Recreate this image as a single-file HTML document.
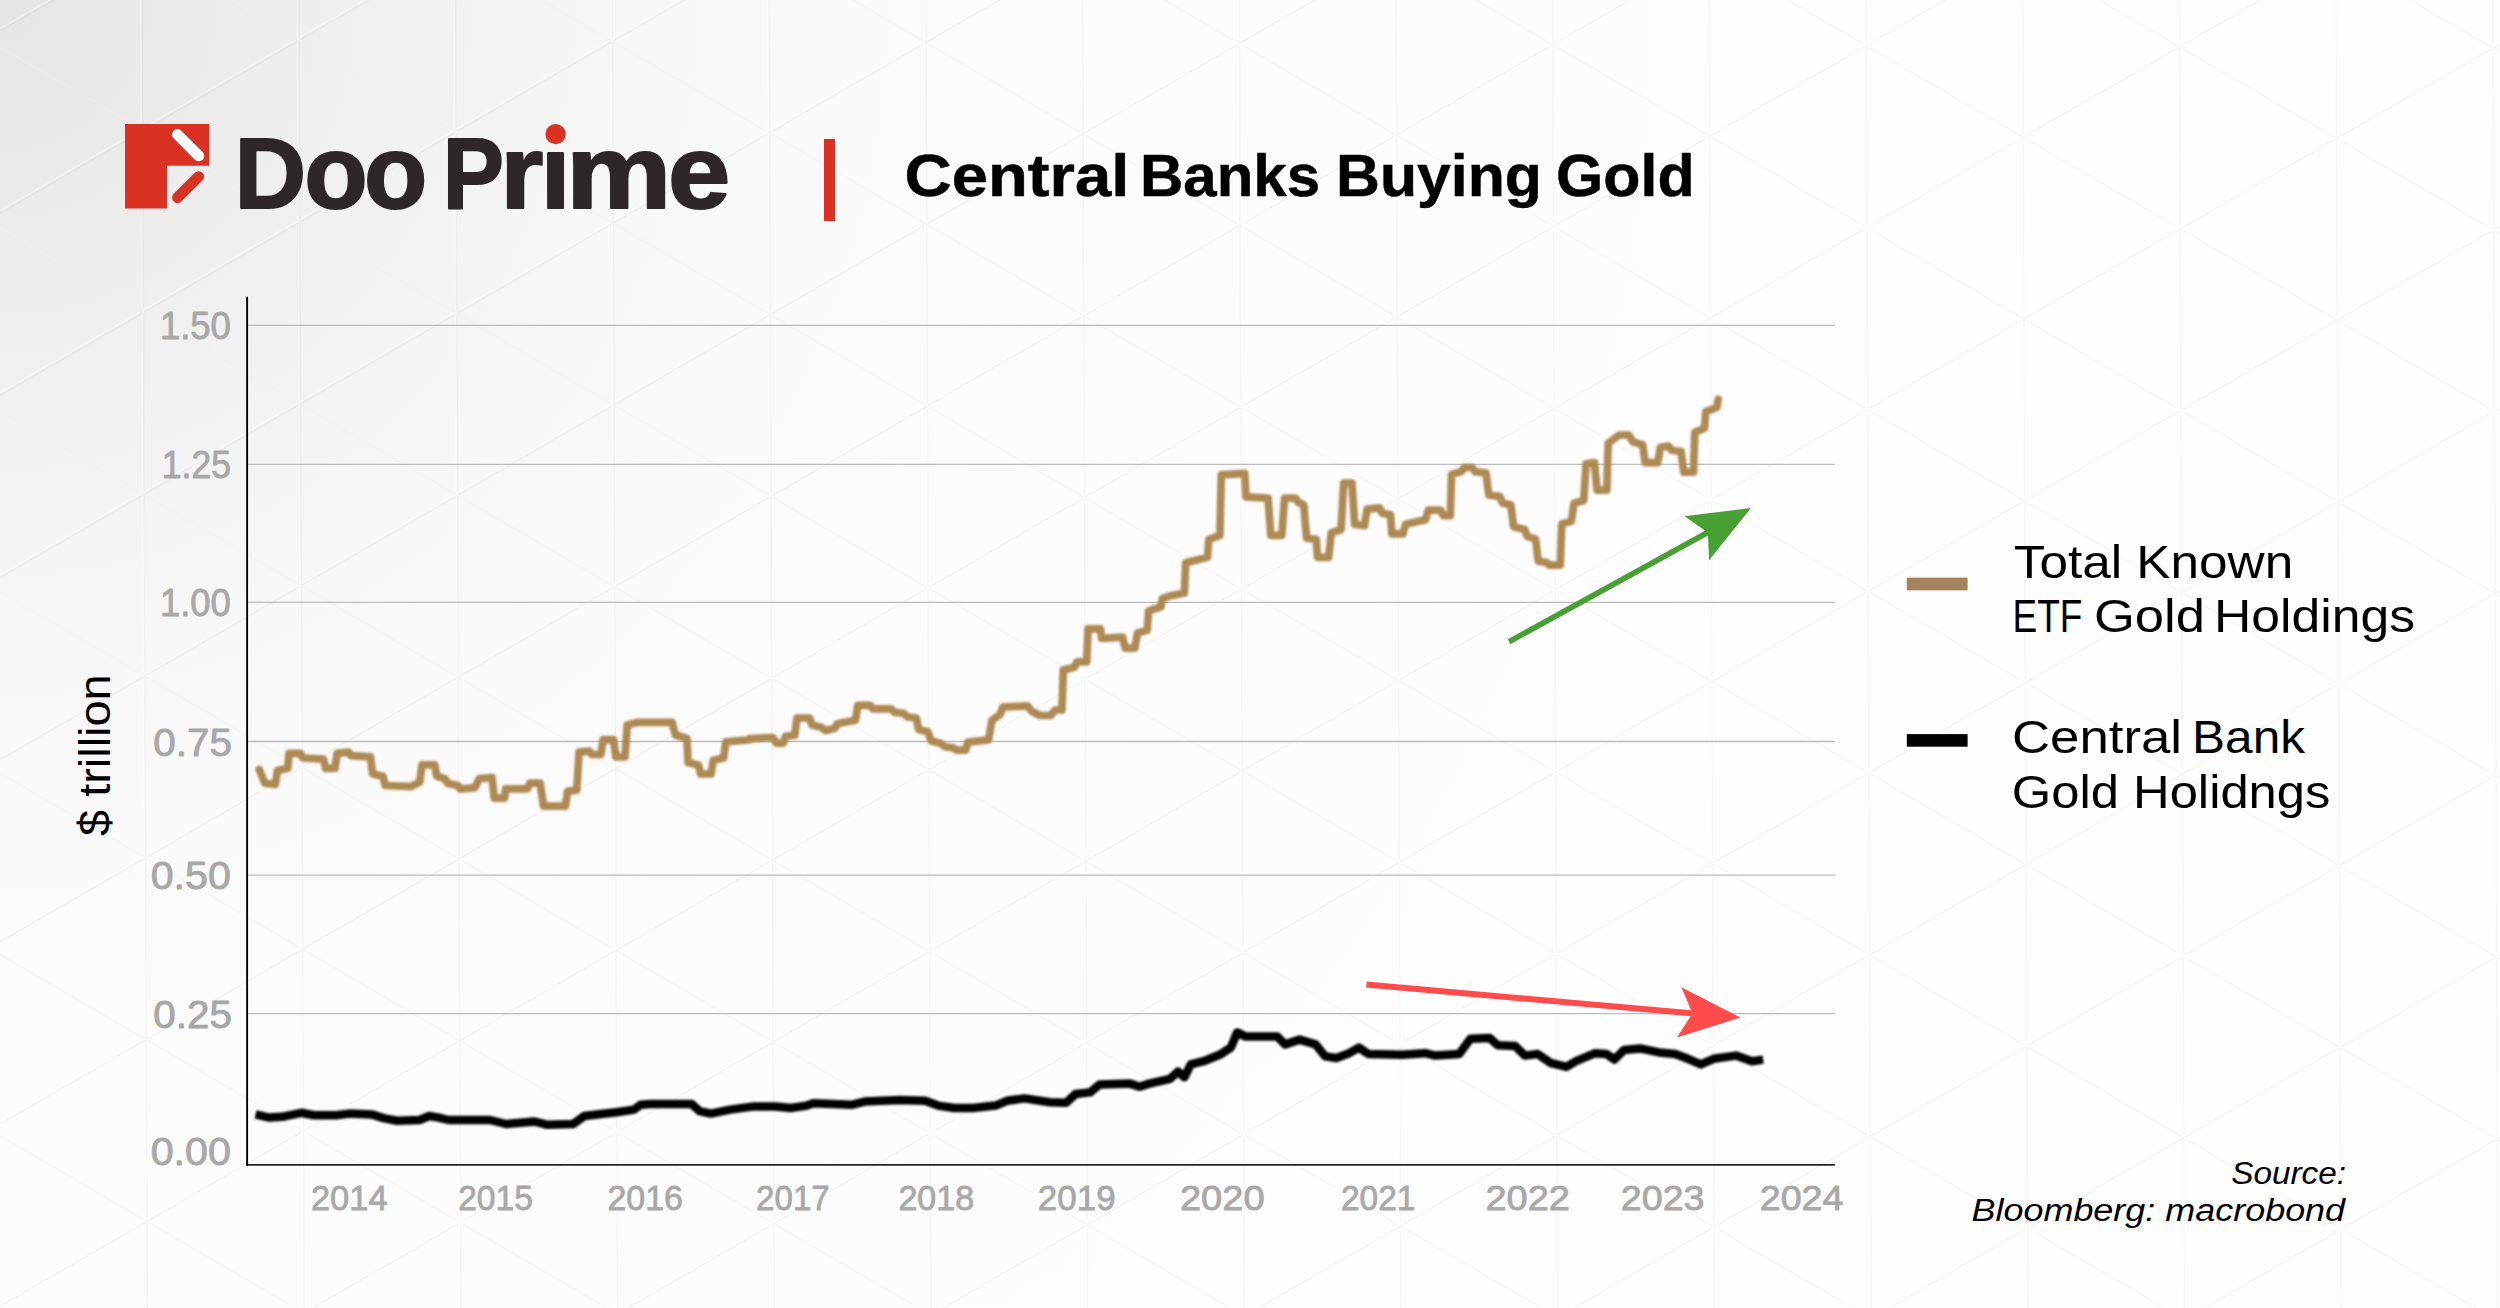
<!DOCTYPE html>
<html lang="en">
<head>
<meta charset="utf-8">
<title>Central Banks Buying Gold</title>
<style>
html,body{margin:0;padding:0;background:#fdfdfd;}
body{width:2500px;height:1308px;overflow:hidden;font-family:"Liberation Sans", sans-serif;}
svg{display:block;}
text{font-family:"Liberation Sans", sans-serif;}
</style>
</head>
<body>
<svg width="2500" height="1308" viewBox="0 0 2500 1308">
<defs>
<radialGradient id="bg1" gradientUnits="userSpaceOnUse" cx="0" cy="0" r="2000">
<stop offset="0.000" stop-color="#e5e5e5"/>
<stop offset="0.105" stop-color="#ebebeb"/>
<stop offset="0.200" stop-color="#f1f1f1"/>
<stop offset="0.325" stop-color="#f7f7f7"/>
<stop offset="0.425" stop-color="#fafafa"/>
<stop offset="0.525" stop-color="#fbfbfb"/>
<stop offset="0.650" stop-color="#fcfcfc"/>
<stop offset="0.900" stop-color="#fdfdfd"/>
<stop offset="1.000" stop-color="#fdfdfd"/>
</radialGradient>
<filter id="soft" x="-2%" y="-5%" width="104%" height="110%"><feGaussianBlur stdDeviation="0.9"/></filter>
</defs>
<rect id="bg" x="0" y="0" width="2500" height="1308" fill="url(#bg1)"/>
<g id="pat" fill="none" stroke-width="1.8">
<path id="patl" d="M-186.0,-3598.4L-157.6,3674.3M-29.3,-3597.9L-0.9,3674.9M127.4,-3597.3L155.8,3675.4M284.2,-3596.7L312.6,3676.0M440.9,-3596.2L469.3,3676.5M597.6,-3595.6L626.0,3677.1M754.3,-3595.1L782.7,3677.7M911.0,-3594.5L939.4,3678.2M1067.7,-3593.9L1096.1,3678.8M1224.4,-3593.4L1252.8,3679.3M1381.1,-3592.8L1409.5,3679.9M1537.8,-3592.3L1566.2,3680.5M1694.5,-3591.7L1722.9,3681.0M1851.2,-3591.1L1879.6,3681.6M2007.9,-3590.6L2036.3,3682.2M2164.6,-3590.0L2193.0,3682.7M2321.3,-3589.4L2349.7,3683.3M2478.0,-3588.9L2506.4,3683.8M2634.7,-3588.3L2663.1,3684.4M2791.4,-3587.8L2819.8,3685.0M2948.2,-3587.2L2976.6,3685.5M-9118.2,-3630.4L3446.7,3687.2M-8804.8,-3629.3L3760.1,3688.3M-8491.4,-3628.2L4073.5,3689.4M-8178.0,-3627.0L4386.9,3690.6M-7864.6,-3625.9L4700.3,3691.7M-7551.1,-3624.8L5013.7,3692.8M-7237.7,-3623.7L5327.1,3693.9M-6924.3,-3622.5L5640.6,3695.1M-6610.9,-3621.4L5954.0,3696.2M-6297.5,-3620.3L6267.4,3697.3M-5984.1,-3619.2L6580.8,3698.4M-5670.7,-3618.1L6894.2,3699.5M-5357.3,-3616.9L7207.6,3700.7M-5043.9,-3615.8L7521.0,3701.8M-4730.4,-3614.7L7834.4,3702.9M-4417.0,-3613.6L8147.8,3704.0M-4103.6,-3612.4L8461.3,3705.2M-3790.2,-3611.3L8774.7,3706.3M-3476.8,-3610.2L9088.1,3707.4M-3163.4,-3609.1L9401.5,3708.5M-2850.0,-3608.0L9714.9,3709.6M-6582.5,3651.3L5925.6,-3576.5M-6269.1,3652.4L6239.0,-3575.4M-5955.7,3653.5L6552.4,-3574.3M-5642.3,3654.7L6865.8,-3573.2M-5328.9,3655.8L7179.2,-3572.1M-5015.5,3656.9L7492.6,-3570.9M-4702.0,3658.0L7806.0,-3569.8M-4388.6,3659.2L8119.4,-3568.7M-4075.2,3660.3L8432.9,-3567.6M-3761.8,3661.4L8746.3,-3566.4M-3448.4,3662.5L9059.7,-3565.3M-3135.0,3663.6L9373.1,-3564.2M-2821.6,3664.8L9686.5,-3563.1M-2508.2,3665.9L9999.9,-3562.0M-2194.7,3667.0L10313.3,-3560.8M-1881.3,3668.1L10626.7,-3559.7M-1567.9,3669.2L10940.2,-3558.6M-1254.5,3670.4L11253.6,-3557.5M-941.1,3671.5L11567.0,-3556.3M-627.7,3672.6L11880.4,-3555.2" stroke="#000000" stroke-opacity="0.026" transform="translate(0.7,0.5)"/>
<path d="M-186.0,-3598.4L-157.6,3674.3M-29.3,-3597.9L-0.9,3674.9M127.4,-3597.3L155.8,3675.4M284.2,-3596.7L312.6,3676.0M440.9,-3596.2L469.3,3676.5M597.6,-3595.6L626.0,3677.1M754.3,-3595.1L782.7,3677.7M911.0,-3594.5L939.4,3678.2M1067.7,-3593.9L1096.1,3678.8M1224.4,-3593.4L1252.8,3679.3M1381.1,-3592.8L1409.5,3679.9M1537.8,-3592.3L1566.2,3680.5M1694.5,-3591.7L1722.9,3681.0M1851.2,-3591.1L1879.6,3681.6M2007.9,-3590.6L2036.3,3682.2M2164.6,-3590.0L2193.0,3682.7M2321.3,-3589.4L2349.7,3683.3M2478.0,-3588.9L2506.4,3683.8M2634.7,-3588.3L2663.1,3684.4M2791.4,-3587.8L2819.8,3685.0M2948.2,-3587.2L2976.6,3685.5M-9118.2,-3630.4L3446.7,3687.2M-8804.8,-3629.3L3760.1,3688.3M-8491.4,-3628.2L4073.5,3689.4M-8178.0,-3627.0L4386.9,3690.6M-7864.6,-3625.9L4700.3,3691.7M-7551.1,-3624.8L5013.7,3692.8M-7237.7,-3623.7L5327.1,3693.9M-6924.3,-3622.5L5640.6,3695.1M-6610.9,-3621.4L5954.0,3696.2M-6297.5,-3620.3L6267.4,3697.3M-5984.1,-3619.2L6580.8,3698.4M-5670.7,-3618.1L6894.2,3699.5M-5357.3,-3616.9L7207.6,3700.7M-5043.9,-3615.8L7521.0,3701.8M-4730.4,-3614.7L7834.4,3702.9M-4417.0,-3613.6L8147.8,3704.0M-4103.6,-3612.4L8461.3,3705.2M-3790.2,-3611.3L8774.7,3706.3M-3476.8,-3610.2L9088.1,3707.4M-3163.4,-3609.1L9401.5,3708.5M-2850.0,-3608.0L9714.9,3709.6M-6582.5,3651.3L5925.6,-3576.5M-6269.1,3652.4L6239.0,-3575.4M-5955.7,3653.5L6552.4,-3574.3M-5642.3,3654.7L6865.8,-3573.2M-5328.9,3655.8L7179.2,-3572.1M-5015.5,3656.9L7492.6,-3570.9M-4702.0,3658.0L7806.0,-3569.8M-4388.6,3659.2L8119.4,-3568.7M-4075.2,3660.3L8432.9,-3567.6M-3761.8,3661.4L8746.3,-3566.4M-3448.4,3662.5L9059.7,-3565.3M-3135.0,3663.6L9373.1,-3564.2M-2821.6,3664.8L9686.5,-3563.1M-2508.2,3665.9L9999.9,-3562.0M-2194.7,3667.0L10313.3,-3560.8M-1881.3,3668.1L10626.7,-3559.7M-1567.9,3669.2L10940.2,-3558.6M-1254.5,3670.4L11253.6,-3557.5M-941.1,3671.5L11567.0,-3556.3M-627.7,3672.6L11880.4,-3555.2" stroke="#ffffff" stroke-opacity="0.32" transform="translate(-0.7,-0.5)"/>
</g>
<g id="logo">
<path d="M125,124.1 H209.3 V165.7 H167 V208.5 H125 Z" fill="#d93223"/>
<line x1="177.5" y1="134.5" x2="198.8" y2="155.8" stroke="#ffffff" stroke-width="10.9" stroke-linecap="round"/>
<line x1="198.6" y1="176.7" x2="177.5" y2="197.7" stroke="#d93223" stroke-width="10.9" stroke-linecap="round"/>
<circle cx="555.6" cy="134.1" r="10.2" fill="#d93223"/>
<rect x="824" y="139" width="11" height="82" fill="#d93223"/>
</g>
<g id="grid" stroke="#bcbcbc" stroke-width="1.3">
<line x1="248" y1="325.4" x2="1835" y2="325.4"/>
<line x1="248" y1="464.3" x2="1835" y2="464.3"/>
<line x1="248" y1="602.3" x2="1835" y2="602.3"/>
<line x1="248" y1="741.5" x2="1835" y2="741.5"/>
<line x1="248" y1="875.1" x2="1835" y2="875.1"/>
<line x1="248" y1="1013.6" x2="1835" y2="1013.6"/>
</g>
<g id="axes" fill="none"><path d="M246.2,1164.9 H1834.8" stroke="#262626" stroke-width="1.8"/><path d="M247.1,296.7 V1165.8" stroke="#050505" stroke-width="1.9"/></g>
<path id="gold" d="M259.2,769.4 L264.9,783.2 L275.2,784.4 L277.5,770.6 L287.8,768.3 L289.0,753.4 L300.5,753.4 L302.8,758.0 L323.4,759.1 L325.7,768.3 L334.9,768.3 L337.2,753.4 L348.6,752.2 L350.9,755.7 L370.4,756.8 L372.7,774.0 L383.0,776.3 L385.3,785.5 L410.6,786.7 L419.7,782.1 L422.0,764.9 L434.6,764.9 L436.9,776.3 L445.0,778.6 L447.2,783.2 L457.6,785.5 L459.9,788.9 L474.8,787.8 L479.4,778.6 L492.0,777.5 L494.3,798.1 L500.0,798.1 L504.6,798.1 L505.7,788.9 L527.5,788.9 L529.8,783.2 L540.1,783.2 L543.6,806.1 L565.4,806.1 L567.7,791.2 L576.8,790.1 L579.1,752.2 L589.4,751.1 L591.7,754.5 L600.9,754.5 L603.2,739.6 L613.5,739.6 L615.8,756.8 L625.0,756.8 L627.3,724.7 L637.6,722.4 L672.0,722.4 L675.5,735.0 L686.9,738.5 L688.1,762.6 L698.4,764.9 L700.7,774.0 L711.0,774.0 L713.3,760.3 L723.6,758.0 L725.9,741.9 L750.0,739.6 L750.0,738.6 L772.9,737.5 L776.4,743.2 L783.3,743.2 L785.6,736.3 L794.7,735.2 L797.0,718.0 L809.6,718.0 L811.9,724.9 L821.1,727.2 L825.7,730.6 L834.9,728.3 L837.2,723.7 L855.5,720.3 L857.8,705.4 L870.4,705.4 L872.7,708.8 L891.1,708.8 L894.5,712.2 L903.7,713.4 L907.1,716.8 L916.3,718.0 L918.6,729.4 L927.8,731.7 L931.2,740.9 L940.4,743.2 L945.0,746.7 L953.0,747.8 L956.4,750.1 L965.6,750.1 L967.9,742.1 L988.5,739.8 L992.0,720.3 L1000.0,714.5 L1002.8,707.2 L1027.5,705.8 L1031.6,711.3 L1039.9,715.5 L1050.9,715.5 L1055.0,710.0 L1061.9,710.0 L1063.3,670.1 L1074.3,667.3 L1077.1,661.8 L1086.7,661.8 L1088.1,628.8 L1100.4,628.8 L1101.8,638.4 L1122.5,637.1 L1125.2,648.1 L1134.8,648.1 L1137.6,632.9 L1147.2,630.2 L1148.6,610.9 L1161.0,606.8 L1162.4,598.5 L1170.6,595.8 L1184.4,593.0 L1185.7,562.8 L1207.5,557.3 L1208.9,539.4 L1219.9,535.3 L1221.3,474.8 L1244.7,473.4 L1246.0,496.8 L1268.1,498.2 L1270.8,535.3 L1281.8,535.3 L1284.6,498.2 L1295.6,498.2 L1298.3,502.3 L1303.8,505.0 L1306.6,538.1 L1316.2,539.4 L1317.6,557.3 L1328.6,557.3 L1331.3,532.6 L1341.0,529.8 L1343.7,483.0 L1352.0,483.0 L1354.7,524.3 L1364.4,525.7 L1367.1,509.2 L1379.5,507.8 L1382.3,513.3 L1390.5,514.7 L1391.9,533.9 L1402.9,533.9 L1405.6,524.3 L1425.5,519.8 L1428.3,510.2 L1440.6,510.2 L1443.4,515.7 L1450.3,515.7 L1451.6,474.4 L1461.3,471.6 L1464.0,467.5 L1472.3,467.5 L1475.0,471.6 L1486.0,473.0 L1488.8,495.0 L1499.8,496.4 L1502.6,503.3 L1510.8,504.7 L1513.6,526.7 L1524.6,529.4 L1527.3,536.3 L1535.6,539.1 L1538.3,561.1 L1546.6,562.5 L1549.3,565.2 L1560.3,565.2 L1561.7,523.9 L1571.3,521.2 L1574.1,503.3 L1583.7,500.5 L1586.1,463.9 L1594.4,462.6 L1597.1,490.1 L1606.8,490.1 L1608.2,443.3 L1619.2,435.0 L1628.8,435.0 L1632.9,441.9 L1642.6,444.7 L1645.3,462.6 L1657.7,462.6 L1660.4,447.4 L1668.7,446.0 L1671.4,450.2 L1681.1,451.5 L1683.8,472.2 L1693.5,472.2 L1694.8,432.3 L1704.5,428.2 L1705.8,411.6 L1716.9,407.5 L1718.2,399.3" fill="none" stroke="#ad8952" stroke-width="7.7" stroke-linejoin="round" stroke-linecap="round" filter="url(#soft)"/>
<path id="black" d="M255.6,1114.4 L269.2,1117.6 L282.0,1116.8 L301.2,1112.8 L314.0,1115.2 L336.4,1115.2 L349.2,1113.6 L371.6,1114.4 L384.4,1118.4 L397.2,1120.8 L419.6,1120.0 L429.2,1116.0 L438.8,1117.6 L448.4,1120.0 L490.0,1120.0 L506.0,1124.0 L534.8,1121.6 L547.6,1124.8 L573.2,1124.0 L584.4,1116.0 L618.0,1112.0 L634.0,1109.6 L640.4,1104.8 L650.0,1104.0 L691.6,1104.0 L699.6,1111.2 L710.8,1113.6 L730.0,1109.6 L754.0,1106.4 L774.8,1106.4 L790.8,1108.0 L806.8,1105.6 L813.2,1103.2 L851.6,1104.8 L864.4,1101.6 L899.6,1100.0 L925.2,1100.8 L938.0,1105.6 L954.0,1108.0 L973.2,1108.0 L995.6,1105.6 L1006.8,1100.8 L1024.4,1098.4 L1050.0,1102.2 L1066.0,1102.8 L1075.6,1094.0 L1090.0,1092.4 L1099.6,1084.4 L1130.0,1083.6 L1139.6,1086.8 L1149.2,1083.6 L1170.0,1078.8 L1178.0,1071.6 L1184.4,1077.2 L1190.8,1064.4 L1203.6,1061.2 L1219.6,1054.8 L1230.8,1047.6 L1237.2,1032.4 L1245.2,1036.4 L1277.2,1036.4 L1285.2,1044.4 L1299.6,1039.6 L1315.6,1044.4 L1325.2,1056.4 L1336.4,1058.0 L1349.2,1053.2 L1358.8,1047.6 L1368.4,1054.0 L1402.0,1054.8 L1424.4,1053.2 L1425.6,1053.2 L1435.2,1055.6 L1459.2,1054.0 L1470.4,1038.8 L1489.6,1038.0 L1497.6,1045.2 L1515.2,1046.0 L1524.8,1055.6 L1537.6,1054.0 L1550.4,1062.8 L1566.4,1066.8 L1576.0,1061.2 L1595.2,1053.2 L1606.4,1054.0 L1614.4,1059.6 L1624.0,1050.0 L1640.0,1048.4 L1659.2,1052.4 L1675.2,1054.0 L1688.0,1058.8 L1700.8,1064.4 L1713.6,1058.8 L1736.0,1055.6 L1752.0,1061.2 L1763.2,1059.6" fill="none" stroke="#050505" stroke-width="8.5" stroke-linejoin="round" stroke-linecap="butt" filter="url(#soft)"/>
<g id="arrows">
<line x1="1509.1" y1="641.7" x2="1709" y2="531.8" stroke="#48a035" stroke-width="5.6"/>
<path d="M1750.9,508 L1684.5,516.3 L1707.8,532.4 L1709.1,560.3 Z" fill="#48a035"/>
<line x1="1366.4" y1="984.6" x2="1694" y2="1013.5" stroke="#fe4c4c" stroke-width="6"/>
<path d="M1740.4,1017.6 L1681.4,987.3 L1692.5,1013.4 L1677,1037.4 Z" fill="#fe4c4c"/>
</g>
<g id="legend">
<rect x="1906.8" y="577.6" width="60.8" height="12.8" fill="#a5835f"/>
<rect x="1906.8" y="734.1" width="60.8" height="12.6" fill="#000000"/>
</g>
<g id="texts">
<text id="l_D" x="234.6" y="208.3" font-size="101" fill="#2d2729" font-weight="bold" textLength="71.6" lengthAdjust="spacingAndGlyphs" stroke="#2d2729" stroke-width="2.0" stroke-linejoin="round">D</text>
<text id="l_o1" x="304.3" y="208.3" font-size="104" fill="#2d2729" font-weight="bold" textLength="63.5" lengthAdjust="spacingAndGlyphs" stroke="#2d2729" stroke-width="2.0" stroke-linejoin="round">o</text>
<text id="l_o2" x="364.1" y="208.3" font-size="104" fill="#2d2729" font-weight="bold" textLength="63.3" lengthAdjust="spacingAndGlyphs" stroke="#2d2729" stroke-width="2.0" stroke-linejoin="round">o</text>
<text id="l_P" x="442.7" y="208.3" font-size="101" fill="#2d2729" font-weight="bold" textLength="61.2" lengthAdjust="spacingAndGlyphs" stroke="#2d2729" stroke-width="2.0" stroke-linejoin="round">P</text>
<text id="l_r" x="500.2" y="208.3" font-size="104" fill="#2d2729" font-weight="bold" textLength="43.1" lengthAdjust="spacingAndGlyphs" stroke="#2d2729" stroke-width="2.0" stroke-linejoin="round">r</text>
<text id="l_i" x="540.6" y="208.3" font-size="104" fill="#2d2729" font-weight="bold" textLength="30.0" lengthAdjust="spacingAndGlyphs" stroke="#2d2729" stroke-width="2.0" stroke-linejoin="round">&#305;</text>
<text id="l_m" x="566.1" y="208.3" font-size="104" fill="#2d2729" font-weight="bold" textLength="105.4" lengthAdjust="spacingAndGlyphs" stroke="#2d2729" stroke-width="2.0" stroke-linejoin="round">m</text>
<text id="l_e" x="668.1" y="208.3" font-size="104" fill="#2d2729" font-weight="bold" textLength="62.3" lengthAdjust="spacingAndGlyphs" stroke="#2d2729" stroke-width="2.0" stroke-linejoin="round">e</text>
<text id="t1" x="904.6" y="196.3" font-size="58.5" fill="#000000" font-weight="bold" textLength="224.8" lengthAdjust="spacingAndGlyphs" stroke="#000000" stroke-width="0.5" stroke-linejoin="round">Central</text>
<text id="t2" x="1140.0" y="196.3" font-size="58.5" fill="#000000" font-weight="bold" textLength="180.0" lengthAdjust="spacingAndGlyphs" stroke="#000000" stroke-width="0.5" stroke-linejoin="round">Banks</text>
<text id="t3" x="1336.0" y="196.3" font-size="58.5" fill="#000000" font-weight="bold" textLength="206.0" lengthAdjust="spacingAndGlyphs" stroke="#000000" stroke-width="0.5" stroke-linejoin="round">Buying</text>
<text id="t4" x="1556.0" y="196.3" font-size="58.5" fill="#000000" font-weight="bold" textLength="138.6" lengthAdjust="spacingAndGlyphs" stroke="#000000" stroke-width="0.5" stroke-linejoin="round">Gold</text>
<text id="y0" x="159.9" y="339.4" font-size="38.5" fill="#a8a8a8" textLength="71.0" lengthAdjust="spacingAndGlyphs" stroke="#a8a8a8" stroke-width="0.9" stroke-linejoin="round">1.50</text>
<text id="y1" x="161.8" y="478.3" font-size="38.5" fill="#a8a8a8" textLength="69.1" lengthAdjust="spacingAndGlyphs" stroke="#a8a8a8" stroke-width="0.9" stroke-linejoin="round">1.25</text>
<text id="y2" x="159.9" y="616.3" font-size="38.5" fill="#a8a8a8" textLength="71.0" lengthAdjust="spacingAndGlyphs" stroke="#a8a8a8" stroke-width="0.9" stroke-linejoin="round">1.00</text>
<text id="y3" x="153.2" y="755.5" font-size="38.5" fill="#a8a8a8" textLength="78.7" lengthAdjust="spacingAndGlyphs" stroke="#a8a8a8" stroke-width="0.9" stroke-linejoin="round">0.75</text>
<text id="y4" x="150.7" y="889.1" font-size="38.5" fill="#a8a8a8" textLength="80.2" lengthAdjust="spacingAndGlyphs" stroke="#a8a8a8" stroke-width="0.9" stroke-linejoin="round">0.50</text>
<text id="y5" x="153.2" y="1027.5" font-size="38.5" fill="#a8a8a8" textLength="78.7" lengthAdjust="spacingAndGlyphs" stroke="#a8a8a8" stroke-width="0.9" stroke-linejoin="round">0.25</text>
<text id="y6" x="150.7" y="1165.4" font-size="38.5" fill="#a8a8a8" textLength="80.2" lengthAdjust="spacingAndGlyphs" stroke="#a8a8a8" stroke-width="0.9" stroke-linejoin="round">0.00</text>
<text id="x0" x="310.9" y="1210.0" font-size="35.5" fill="#a8a8a8" textLength="76.7" lengthAdjust="spacingAndGlyphs" stroke="#a8a8a8" stroke-width="0.8" stroke-linejoin="round">2014</text>
<text id="x1" x="458.2" y="1210.0" font-size="35.5" fill="#a8a8a8" textLength="74.7" lengthAdjust="spacingAndGlyphs" stroke="#a8a8a8" stroke-width="0.8" stroke-linejoin="round">2015</text>
<text id="x2" x="607.4" y="1210.0" font-size="35.5" fill="#a8a8a8" textLength="75.6" lengthAdjust="spacingAndGlyphs" stroke="#a8a8a8" stroke-width="0.8" stroke-linejoin="round">2016</text>
<text id="x3" x="756.1" y="1210.0" font-size="35.5" fill="#a8a8a8" textLength="73.6" lengthAdjust="spacingAndGlyphs" stroke="#a8a8a8" stroke-width="0.8" stroke-linejoin="round">2017</text>
<text id="x4" x="898.4" y="1210.0" font-size="35.5" fill="#a8a8a8" textLength="75.7" lengthAdjust="spacingAndGlyphs" stroke="#a8a8a8" stroke-width="0.8" stroke-linejoin="round">2018</text>
<text id="x5" x="1037.8" y="1210.0" font-size="35.5" fill="#a8a8a8" textLength="77.8" lengthAdjust="spacingAndGlyphs" stroke="#a8a8a8" stroke-width="0.8" stroke-linejoin="round">2019</text>
<text id="x6" x="1179.9" y="1210.0" font-size="35.5" fill="#a8a8a8" textLength="84.7" lengthAdjust="spacingAndGlyphs" stroke="#a8a8a8" stroke-width="0.8" stroke-linejoin="round">2020</text>
<text id="x7" x="1340.9" y="1210.0" font-size="35.5" fill="#a8a8a8" textLength="74.6" lengthAdjust="spacingAndGlyphs" stroke="#a8a8a8" stroke-width="0.8" stroke-linejoin="round">2021</text>
<text id="x8" x="1485.4" y="1210.0" font-size="35.5" fill="#a8a8a8" textLength="84.5" lengthAdjust="spacingAndGlyphs" stroke="#a8a8a8" stroke-width="0.8" stroke-linejoin="round">2022</text>
<text id="x9" x="1620.8" y="1210.0" font-size="35.5" fill="#a8a8a8" textLength="83.7" lengthAdjust="spacingAndGlyphs" stroke="#a8a8a8" stroke-width="0.8" stroke-linejoin="round">2023</text>
<text id="x10" x="1759.7" y="1210.0" font-size="35.5" fill="#a8a8a8" textLength="83.8" lengthAdjust="spacingAndGlyphs" stroke="#a8a8a8" stroke-width="0.8" stroke-linejoin="round">2024</text>
<text id="lg1" x="2013.8" y="578.1" font-size="46" fill="#000000" textLength="279.4" lengthAdjust="spacingAndGlyphs">Total Known</text>
<text id="lg2a" x="2012.5" y="632.4" font-size="46" fill="#000000" textLength="70.0" lengthAdjust="spacingAndGlyphs">ETF</text>
<text id="lg2b" x="2094.0" y="632.4" font-size="46" fill="#000000" textLength="111.0" lengthAdjust="spacingAndGlyphs">Gold</text>
<text id="lg2c" x="2214.0" y="632.4" font-size="46" fill="#000000" textLength="201.0" lengthAdjust="spacingAndGlyphs">Holdings</text>
<text id="lg3a" x="2012.0" y="752.8" font-size="46" fill="#000000" textLength="170.0" lengthAdjust="spacingAndGlyphs">Central</text>
<text id="lg3b" x="2192.0" y="752.8" font-size="46" fill="#000000" textLength="113.0" lengthAdjust="spacingAndGlyphs">Bank</text>
<text id="lg4" x="2011.8" y="807.7" font-size="46" fill="#000000" textLength="318.6" lengthAdjust="spacingAndGlyphs">Gold Holidngs</text>
<text id="src1" x="2231.2" y="1184.0" font-size="31" fill="#000000" font-style="italic" textLength="114.9" lengthAdjust="spacingAndGlyphs">Source:</text>
<text id="src2" x="1971.5" y="1221.2" font-size="31" fill="#000000" font-style="italic" textLength="373.6" lengthAdjust="spacingAndGlyphs">Bloomberg: macrobond</text>
<text id="ytitle" x="110.1" y="836.0" font-size="45" fill="#000000" textLength="161.7" lengthAdjust="spacingAndGlyphs" transform="rotate(-90 110.1 836.0)">$ trillion</text>
</g>
</svg>
</body>
</html>
